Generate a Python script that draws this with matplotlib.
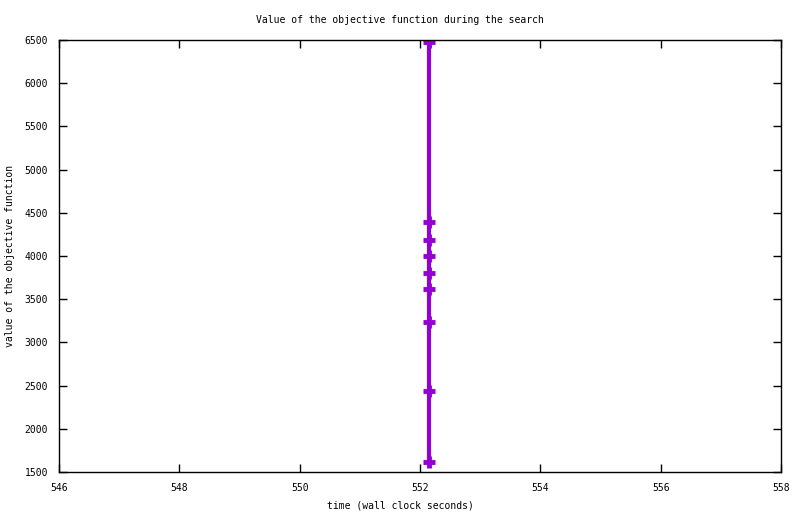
import matplotlib
matplotlib.use('agg')
import matplotlib.pyplot as plt

# values
times = [552.15, 552.15, 552.15, 552.15, 552.15, 552.15, 552.15, 552.15, 552.15]
objective = [6480, 4397, 4185, 4003, 3807, 3622, 3240, 2441, 1619]
xticks = [546, 548, 550, 552, 554, 556, 558]
yticks = [1500, 2000, 2500, 3000, 3500, 4000, 4500, 5000, 5500, 6000, 6500]

plt.rcParams['font.family'] = ['DejaVu Sans Mono']
fs = 7

fig = plt.figure(figsize=(8, 5.14), dpi=100)
ax = fig.add_axes([59/800, 1-472/514, 722/800, 432/514])

ax.plot(times, objective, color='#9400d3', lw=3, marker='+',
        markersize=8, markeredgewidth=3.5, solid_capstyle='butt')

ax.set_xlim(546, 558)
ax.set_ylim(1500, 6500)
ax.set_xticks(xticks)
ax.set_yticks(yticks)
ax.tick_params(direction='in', length=6, width=1, top=True, right=True,
               labelsize=fs, pad=8, color='black')
for s in ax.spines.values():
    s.set_linewidth(1)

fig.text(0.5, 1-20/514, 'Value of the objective function during the search',
         ha='center', va='center', fontsize=fs)
fig.text(0.5, 1-505/514, 'time (wall clock seconds)',
         ha='center', va='center', fontsize=fs)
fig.text(10/800, 1-256/514, 'value of the objective function',
         ha='center', va='center', rotation=90, fontsize=fs)

fig.savefig('out.png', dpi=100)
